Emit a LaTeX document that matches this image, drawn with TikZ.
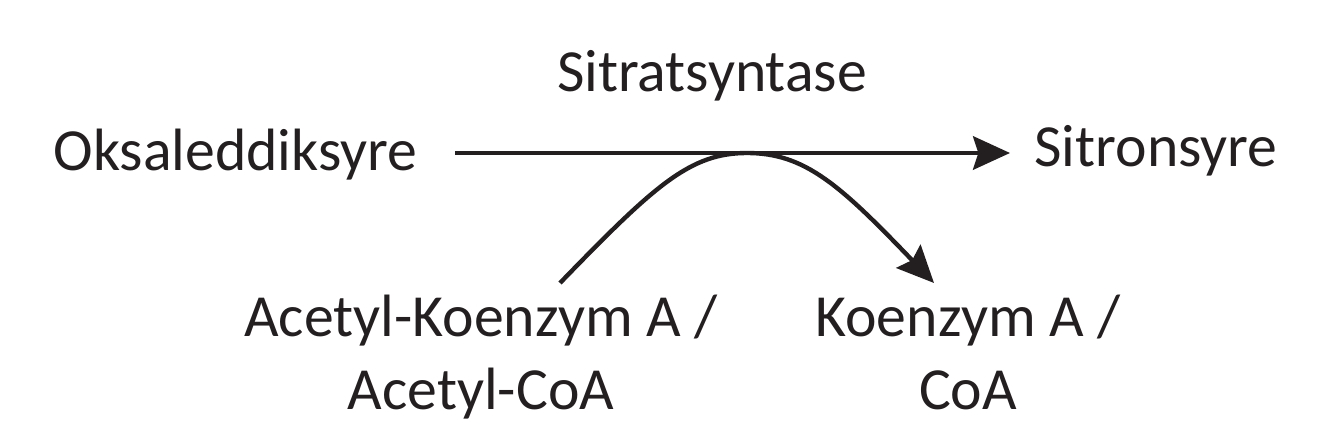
\documentclass[tikz,border=0pt]{standalone}
\usepackage{fontspec}
\setmainfont{Carlito}
\usetikzlibrary{arrows.meta}
\definecolor{ink}{RGB}{35,31,32}
\begin{document}
\begin{tikzpicture}[x=0.02cm,y=-0.02cm,
	chem/.style={inner sep=0pt,text=ink,font=\fontsize{34}{41}\selectfont,align=center},
	reaction/.style={draw=ink,line width=2.5pt,-{Stealth[length=21pt,width=19pt,inset=3pt]}}]
	\useasboundingbox (0,0) rectangle (1317,438);
	\node [chem,anchor=base] (enzym) at (712,92) {Sitratsyntase};
	\node [chem,anchor=base] (oksal) at (235.5,171) {Oksaleddiksyre};
	\node [chem,anchor=base] (sitron) at (1156,167) {Sitronsyre};
	\node [chem,anchor=base] (acetyl) at (481,409) {Acetyl-Koenzym A /\\Acetyl-CoA};
	\node [chem,anchor=base] (coa) at (968,409) {Koenzym A /\\CoA};
	\coordinate (inn) at (455,153);
	\coordinate (ut) at (1010,153);
	\coordinate (accin) at (560,283);
	\coordinate (coaut) at (934,283);
	\draw [reaction] (inn) -- (ut);
	\draw [reaction] (accin) .. controls (655,185) and (690,153) .. (747,153) .. controls (805,153) and (840,185) .. (coaut);
\end{tikzpicture}
\end{document}
